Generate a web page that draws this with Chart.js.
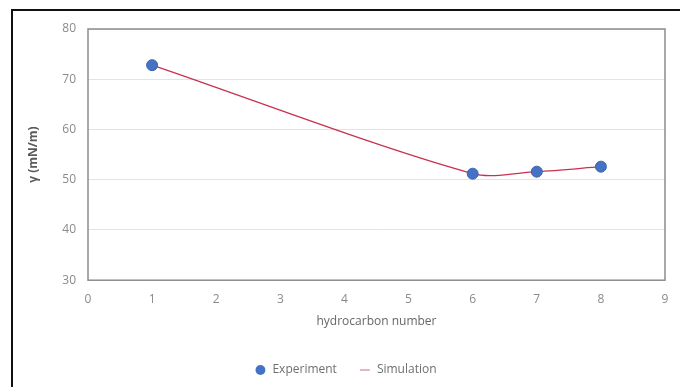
<!DOCTYPE html>
<html>
<head>
<meta charset="utf-8">
<script src="https://cdn.jsdelivr.net/npm/chart.js@4"></script>
<style>
  html, body { margin: 0; padding: 0; background: #fff; }
  #wrap { position: relative; width: 680px; height: 387px; }
  #frame { position: absolute; left: 11px; top: 9px; right: 0; bottom: 0; border-left: 2px solid #111; border-top: 2px solid #111; pointer-events: none; }
</style>
</head>
<body>
<div id="wrap">
  <canvas id="chart" width="680" height="387"></canvas>
  <div id="frame"></div>
</div>
<script>
const hydrocarbon = [1, 6, 7, 8];
const experiment = [72.8, 51.2, 51.6, 52.6];
const simulation = [72.8, 51.2, 51.6, 52.6];
const xTicks = [0, 1, 2, 3, 4, 5, 6, 7, 8, 9];
const yTicks = [30, 40, 50, 60, 70, 80];

const font = "'Open Sans', 'Noto Sans', sans-serif";

const boxBorder = {
    id: 'boxBorder',
    afterDatasetsDraw(chart) {
        const { ctx, chartArea: a } = chart;
        ctx.save();
        ctx.strokeStyle = '#8c8c8c';
        ctx.lineWidth = 1.5;
        ctx.strokeRect(a.left, a.top, a.right - a.left, a.bottom - a.top);
        ctx.restore();
    }
};

const ctx = document.getElementById("chart").getContext('2d');
new Chart(ctx, {
    type: 'scatter',
    data: {
        datasets: [{
            label: 'Experiment',
            data: hydrocarbon.map((x, i) => ({ x, y: experiment[i] })),
            backgroundColor: '#4472c4',
            borderColor: '#3a64ad',
            pointRadius: 5.5,
            pointStyle: 'circle',
            showLine: false,
            order: 0,
        }, {
            label: 'Simulation',
            data: hydrocarbon.map((x, i) => ({ x, y: simulation[i] })),
            borderColor: '#c8324e',
            backgroundColor: '#c8324e',
            borderWidth: 1.3,
            pointRadius: 0,
            pointStyle: 'line',
            showLine: true,
            tension: 0.3,
            order: 1,
        }],
    },
    options: {
        responsive: false,
        animation: false,
        layout: { padding: { left: 26, top: 29, right: 15, bottom: 1 } },
        plugins: {
            tooltip: { enabled: false },
            legend: {
                position: 'bottom',
                labels: {
                    usePointStyle: true,
                    boxHeight: 7,
                    padding: 22,
                    color: '#6f6f6f',
                    font: { family: font, size: 12 },
                    generateLabels(chart) {
                        return chart.data.datasets.map((ds, i) => ({
                            text: ds.label,
                            datasetIndex: i,
                            fillStyle: i === 0 ? '#4472c4' : '#d9a0a8',
                            strokeStyle: i === 0 ? '#4472c4' : '#d9a0a8',
                            lineWidth: i === 0 ? 0 : 1.5,
                            pointStyle: ds.pointStyle,
                            fontColor: '#6f6f6f',
                        }));
                    },
                },
            },
        },
        scales: {
            x: {
                type: 'linear',
                min: 0,
                max: 9,
                afterBuildTicks(scale) { scale.ticks = xTicks.map(v => ({ value: v })); },
                grid: { display: false },
                border: { display: false },
                ticks: { color: '#8a8a8a', font: { family: font, size: 12 }, padding: 4 },
                title: {
                    display: true,
                    text: 'hydrocarbon number',
                    color: '#666',
                    font: { family: font, size: 12 },
                    padding: { top: 4, bottom: 13 },
                },
            },
            y: {
                min: 30,
                max: 80,
                afterBuildTicks(scale) { scale.ticks = yTicks.map(v => ({ value: v })); },
                afterFit(scale) { scale.width = 62; },
                grid: { color: '#e3e3e3', lineWidth: 1, drawTicks: false },
                border: { display: false },
                ticks: { color: '#8a8a8a', font: { family: font, size: 12 }, padding: 12 },
                title: {
                    display: true,
                    text: 'γ (mN/m)',
                    color: '#5a5a5a',
                    font: { family: font, size: 12, weight: 'bold' },
                    padding: { top: 0, bottom: 6 },
                },
            },
        },
    },
    plugins: [boxBorder],
});
</script>
</body>
</html>
